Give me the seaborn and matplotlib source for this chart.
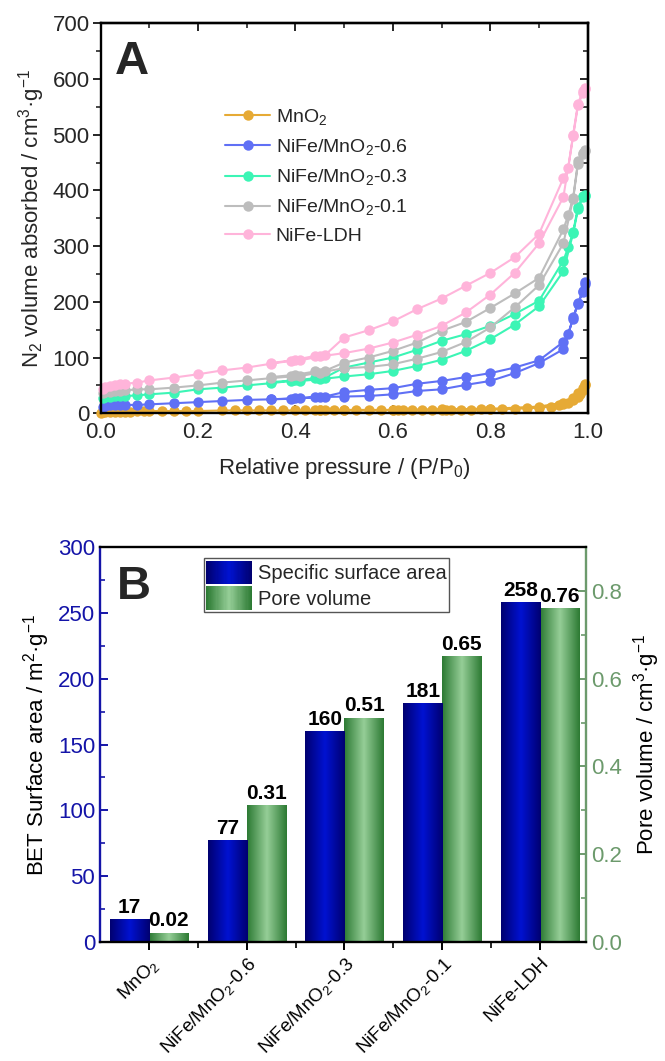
import numpy as np
import pandas as pd
import matplotlib
matplotlib.use("Agg")
import matplotlib.pyplot as plt
import seaborn as sns
from matplotlib.colors import LinearSegmentedColormap
from matplotlib.legend_handler import HandlerBase
from matplotlib.patches import Rectangle
from matplotlib.lines import Line2D
from matplotlib.ticker import MultipleLocator, FixedLocator

# ---------------- Panel A data (N2 isotherms) ----------------
SAMPLES = ["MnO$_2$", "NiFe/MnO$_2$-0.6", "NiFe/MnO$_2$-0.3", "NiFe/MnO$_2$-0.1", "NiFe-LDH"]
LINE_COLORS = ["#E6AA35", "#6070F5", "#3CF5B5", "#BDBDBD", "#FFB4DA"]

P_ADS = [0.005, 0.01, 0.02, 0.03, 0.04, 0.05, 0.075, 0.1, 0.15, 0.2, 0.25, 0.3, 0.35, 0.39, 0.41,
         0.45, 0.5, 0.55, 0.6, 0.65, 0.7, 0.75, 0.8, 0.85, 0.9, 0.95, 0.97, 0.98, 0.99, 0.995]
P_DES = [0.995, 0.99, 0.98, 0.97, 0.96, 0.95, 0.9, 0.85, 0.8, 0.75, 0.7, 0.65, 0.6, 0.55, 0.5,
         0.46, 0.44, 0.4, 0.35]

LDH_ADS = [43, 47, 49, 51, 52, 53, 55, 59, 64, 70, 77, 82, 89, 94, 95,
           102, 108, 116, 127, 141, 157, 181, 213, 252, 305, 388, 497, 553, 575, 583]
LDH_DES = [584, 578, 556, 500, 440, 422, 322, 280, 252, 229, 206, 187, 165, 149, 136,
           104, 103, 96, 90]

NM01_ADS = [36, 38, 39, 40, 40, 41, 43, 43, 46, 50, 55, 59, 63, 66, 67,
            73, 81, 83, 88, 98, 110, 128, 154, 190, 230, 305, 385, 448, 465, 470]
NM01_DES = [472, 468, 452, 386, 356, 330, 243, 215, 189, 164, 148, 127, 112, 100, 91,
            76, 75, 69, 65]

NM03_ADS = [27, 29, 30, 31, 31, 31, 32, 34, 37, 43, 46, 50, 54, 58, 58,
            61, 66, 70, 76, 85, 96, 112, 133, 159, 192, 255, 323, 366, 389, 390]
NM03_DES = [392, 390, 370, 325, 298, 274, 202, 178, 157, 142, 130, 114, 100, 91, 82,
            64, 63, 59, 56]

NM06_ADS = [12, 13, 14, 14, 15, 15, 15, 16, 18, 20, 22, 24, 25, 26, 27,
            29, 30, 31, 34, 40, 43, 51, 58, 72, 90, 115, 170, 196, 218, 232]
NM06_DES = [235, 220, 198, 172, 142, 128, 95, 82, 72, 65, 58, 53, 45, 42, 38,
            30, 29, 27, 25]

MNO2_P_ADS = [0.0, 0.005, 0.01, 0.02, 0.03, 0.04, 0.05, 0.06, 0.075, 0.09,
              0.1, 0.125, 0.15, 0.175, 0.2, 0.25, 0.275, 0.3, 0.325, 0.35,
              0.375, 0.4, 0.42, 0.44, 0.45, 0.46, 0.48, 0.5, 0.525, 0.55,
              0.575, 0.6, 0.61, 0.62, 0.64, 0.66, 0.68, 0.7, 0.71, 0.72,
              0.74, 0.76, 0.78, 0.8, 0.825, 0.85, 0.875, 0.9, 0.925, 0.94,
              0.95, 0.96, 0.97, 0.98, 0.985, 0.99, 0.995]
MNO2_ADS = [1, 2, 3, 3, 3, 3, 3, 3, 4, 4,
            4, 4, 4, 4, 4, 5, 5, 5, 5, 5,
            5, 5, 5, 5, 5, 5, 5, 5, 5, 5,
            5, 6, 6, 6, 6, 6, 6, 6, 6, 6,
            6, 6, 7, 7, 7, 8, 9, 10, 12, 14,
            16, 19, 23, 30, 35, 42, 50]
MNO2_P_DES = [0.995, 0.99, 0.98, 0.97, 0.95, 0.9, 0.8, 0.7, 0.6, 0.5, 0.45]
MNO2_DES = [53, 46, 37, 28, 19, 12, 8, 7, 6, 6, 5]

# ---------------- Panel B data ----------------
CATEGORIES = ["MnO$_2$", "NiFe/MnO$_2$-0.6", "NiFe/MnO$_2$-0.3", "NiFe/MnO$_2$-0.1", "NiFe-LDH"]
BET_AREA = [17, 77, 160, 181, 258]
PORE_VOL = [0.02, 0.31, 0.51, 0.65, 0.76]
KINDS = ["Specific surface area", "Pore volume"]

# ---------------- style ----------------
sns.set_theme(style="ticks")
plt.rcParams["font.family"] = ["Liberation Sans", "DejaVu Sans"]
plt.rcParams["mathtext.default"] = "regular"
plt.rcParams["axes.linewidth"] = 1.7

BLUE_AX = "#1414A8"
GREEN_AX = "#6C9A6C"

fig = plt.figure(figsize=(6.65, 10.61), dpi=100)
axA = fig.add_axes([0.1513, 0.6105, 0.7325, 0.3675])
axB = fig.add_axes([0.1504, 0.1122, 0.7308, 0.3722])

# ---------------- Panel A ----------------
rows = []
series = [
    (SAMPLES[0], MNO2_P_ADS + MNO2_P_DES, MNO2_ADS + MNO2_DES),
    (SAMPLES[1], P_ADS + P_DES, NM06_ADS + NM06_DES),
    (SAMPLES[2], P_ADS + P_DES, NM03_ADS + NM03_DES),
    (SAMPLES[3], P_ADS + P_DES, NM01_ADS + NM01_DES),
    (SAMPLES[4], P_ADS + P_DES, LDH_ADS + LDH_DES),
]
for name, ps, vs in series:
    for p, v in zip(ps, vs):
        rows.append({"P": p, "V": v, "sample": name})
df_iso = pd.DataFrame(rows)

sns.lineplot(data=df_iso, x="P", y="V", hue="sample", hue_order=SAMPLES,
             palette=dict(zip(SAMPLES, LINE_COLORS)), estimator=None, sort=False,
             marker="o", markersize=7.5, markeredgewidth=0, linewidth=1.5,
             legend=False, clip_on=False, ax=axA)

axA.set_xlim(0, 1.0)
axA.set_ylim(0, 700)
axA.xaxis.set_major_locator(MultipleLocator(0.2))
axA.xaxis.set_minor_locator(MultipleLocator(0.1))
axA.yaxis.set_major_locator(MultipleLocator(100))
axA.yaxis.set_minor_locator(MultipleLocator(50))
axA.tick_params(axis="x", which="both", direction="in", labelsize=16, pad=6, top=False)
axA.tick_params(axis="y", which="both", direction="out", labelsize=16, pad=2, right=False)
axA.tick_params(which="major", length=6, width=1.4)
axA.tick_params(which="minor", length=3.5, width=1.2)
for sp in axA.spines.values():
    sp.set_color("black")

secT = axA.secondary_xaxis("top")
secT.xaxis.set_major_locator(MultipleLocator(0.2))
secT.xaxis.set_minor_locator(MultipleLocator(0.1))
secT.tick_params(which="both", direction="in", labeltop=False)
secT.tick_params(which="major", length=6, width=1.4)
secT.tick_params(which="minor", length=3.5, width=1.2)
secR = axA.secondary_yaxis("right")
secR.yaxis.set_major_locator(MultipleLocator(100))
secR.yaxis.set_minor_locator(MultipleLocator(50))
secR.tick_params(which="both", direction="in", labelright=False)
secR.tick_params(which="major", length=6, width=1.4)
secR.tick_params(which="minor", length=3.5, width=1.2)

axA.set_xlabel("Relative pressure / (P/P$_0$)", fontsize=16, labelpad=10)
axA.set_ylabel("N$_2$ volume absorbed / cm$^3$·g$^{-1}$", fontsize=16, labelpad=4)
axA.text(0.03, 0.958, "A", transform=axA.transAxes, fontsize=34, fontweight="bold",
         va="top", ha="left")

handlesA = [Line2D([], [], color=c, marker="o", markersize=7.5, markeredgewidth=0, linewidth=1.5)
            for c in LINE_COLORS]
axA.legend(handlesA, SAMPLES, loc="upper left", bbox_to_anchor=(0.24, 0.805), frameon=False,
           fontsize=14, handlelength=2.3, labelspacing=0.52, handletextpad=0.3, borderaxespad=0)

# ---------------- Panel B ----------------
blue_cmap = LinearSegmentedColormap.from_list("bl", ["#000070", "#0012D2", "#000070"])
green_cmap = LinearSegmentedColormap.from_list("gr", ["#2C7A33", "#96CE98", "#2C7A33"])

axB2 = axB.twinx()
axB2.set_position(axB.get_position())

df_bet = pd.DataFrame({"cat": CATEGORIES, "val": BET_AREA, "kind": KINDS[0]})
df_pore = pd.DataFrame({"cat": CATEGORIES, "val": PORE_VOL, "kind": KINDS[1]})
pal = {KINDS[0]: "#0010C0", KINDS[1]: "#6FB874"}

sns.barplot(data=df_bet, x="cat", y="val", hue="kind", hue_order=KINDS, order=CATEGORIES,
            palette=pal, dodge=True, width=0.8, saturation=1, errorbar=None, legend=False, ax=axB)
sns.barplot(data=df_pore, x="cat", y="val", hue="kind", hue_order=KINDS, order=CATEGORIES,
            palette=pal, dodge=True, width=0.8, saturation=1, errorbar=None, legend=False, ax=axB2)


def gradient_bars(ax, cmap):
    grad = np.linspace(0, 1, 128).reshape(1, -1)
    for cont in ax.containers:
        for bar in cont:
            h = bar.get_height()
            if not np.isfinite(h) or h == 0:
                continue
            x0, y0, w = bar.get_x(), bar.get_y(), bar.get_width()
            ax.imshow(grad, extent=[x0, x0 + w, y0, y0 + h], aspect="auto", cmap=cmap,
                      origin="lower", interpolation="bilinear", zorder=bar.get_zorder() + 0.1)
            bar.set_facecolor("none")
            bar.set_edgecolor("none")


gradient_bars(axB, blue_cmap)
gradient_bars(axB2, green_cmap)

for cont in axB.containers:
    if len(cont) == len(BET_AREA):
        axB.bar_label(cont, labels=[f"{v:.0f}" for v in BET_AREA], padding=2, fontsize=15,
                      fontweight="bold", color="black")
for cont in axB2.containers:
    if len(cont) == len(PORE_VOL):
        axB2.bar_label(cont, labels=[f"{v:.2f}" for v in PORE_VOL], padding=2, fontsize=15,
                       fontweight="bold", color="black")

axB.set_xlim(-0.5, 4.47)
axB.set_ylim(0, 300)
axB2.set_ylim(0, 0.9)
axB.yaxis.set_major_locator(MultipleLocator(50))
axB.yaxis.set_minor_locator(MultipleLocator(25))
axB2.yaxis.set_major_locator(MultipleLocator(0.2))
axB2.yaxis.set_minor_locator(MultipleLocator(0.1))
axB2.yaxis.set_major_formatter(matplotlib.ticker.FormatStrFormatter("%.1f"))

axB.set_xticks(range(len(CATEGORIES)))
axB.set_xticklabels(CATEGORIES, rotation=45, ha="right", rotation_mode="anchor", fontsize=13.5)
axB.xaxis.set_minor_locator(FixedLocator([0.5, 1.5, 2.5, 3.5]))
axB.tick_params(axis="x", which="major", direction="out", length=6, width=1.4, pad=3, colors="black")
axB.tick_params(axis="x", which="minor", direction="out", length=4, width=1.2, colors="black")
axB.tick_params(axis="x", top=False)
axB.tick_params(axis="y", which="both", direction="in", colors=BLUE_AX, labelsize=16, right=False)
axB.tick_params(axis="y", which="major", length=6, width=1.4)
axB.tick_params(axis="y", which="minor", length=3.5, width=1.2)
axB2.tick_params(axis="y", which="both", direction="in", colors=GREEN_AX, labelsize=16)
axB2.tick_params(axis="y", which="major", length=6, width=1.4)
axB2.tick_params(axis="y", which="minor", length=3.5, width=1.2)

axB.spines["left"].set_color(BLUE_AX)
axB.spines["right"].set_visible(False)
axB.spines["top"].set_color("black")
axB.spines["bottom"].set_color("black")
axB2.spines["left"].set_visible(False)
axB2.spines["top"].set_visible(False)
axB2.spines["bottom"].set_visible(False)
axB2.spines["right"].set_color(GREEN_AX)

axB.set_xlabel("")
axB.set_ylabel("BET Surface area / m$^2$·g$^{-1}$", fontsize=16, color="black", labelpad=4)
axB2.set_ylabel("Pore volume / cm$^3$·g$^{-1}$", fontsize=16, color="black", labelpad=7)
axB.text(0.035, 0.955, "B", transform=axB.transAxes, fontsize=34, fontweight="bold",
         va="top", ha="left")


class GradientHandler(HandlerBase):
    def __init__(self, cmap):
        super().__init__()
        self.cmap = cmap

    def create_artists(self, legend, orig_handle, xdescent, ydescent, width, height,
                       fontsize, trans):
        n = 40
        arts = []
        for i in range(n):
            r = Rectangle((-xdescent + i * width / n, -ydescent), width / n * 1.05, height,
                          facecolor=self.cmap(i / (n - 1)), edgecolor="none", transform=trans)
            arts.append(r)
        return arts


hB1 = Rectangle((0, 0), 1, 1)
hB2 = Rectangle((0, 0), 1, 1)
legB = axB.legend([hB1, hB2], KINDS, loc="upper left", bbox_to_anchor=(0.213, 0.972),
                  borderaxespad=0, fontsize=14.5, handlelength=2.3, handleheight=1.45,
                  labelspacing=0.08, handletextpad=0.3, borderpad=0.12, fancybox=False,
                  framealpha=1, edgecolor="#555555",
                  handler_map={hB1: GradientHandler(blue_cmap), hB2: GradientHandler(green_cmap)})
legB.get_frame().set_linewidth(1.0)
legB.set_zorder(10)
axB.set_zorder(axB2.get_zorder() + 1)
axB.patch.set_visible(False)

fig.savefig("out.png", dpi=100)
